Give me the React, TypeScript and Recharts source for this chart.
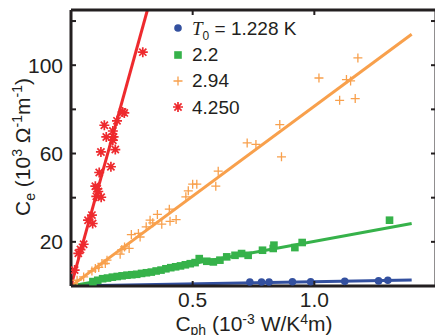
import React from 'react';
import { ComposedChart, Scatter, Line, XAxis, YAxis } from 'recharts';

// Electronic vs phonon heat capacity coefficient, one set per bath temperature T0
const blueX = [0.735, 0.783, 0.814, 0.91, 0.985, 1.125, 1.264, 1.302];
const blueY = [1.8, 1.8, 1.8, 1.9, 1.9, 2.1, 2.3, 2.6];

const greenX = [0.09, 0.11, 0.13, 0.15, 0.17, 0.19, 0.21, 0.23, 0.25, 0.27, 0.29, 0.31, 0.33, 0.35, 0.37, 0.39, 0.41, 0.43, 0.45, 0.47, 0.49, 0.51, 0.527, 0.558, 0.585, 0.612, 0.64, 0.674, 0.701, 0.728, 0.787, 0.831, 0.834, 0.92, 0.95, 1.309];
const greenY = [2.0, 2.6, 3.3, 3.6, 4.0, 4.3, 4.6, 4.9, 5.1, 5.3, 5.7, 6.0, 6.3, 6.8, 7.2, 7.8, 8.3, 8.7, 9.1, 9.6, 10.1, 10.6, 12.4, 11.2, 10.9, 11.7, 13.2, 13.9, 14.7, 13.9, 16.2, 17.0, 18.5, 17.4, 19.7, 29.8];

const orangeX = [0.025, 0.052, 0.086, 0.1, 0.114, 0.127, 0.141, 0.148, 0.202, 0.209, 0.22, 0.239, 0.248, 0.277, 0.284, 0.309, 0.325, 0.336, 0.355, 0.373, 0.404, 0.407, 0.432, 0.472, 0.482, 0.5, 0.517, 0.595, 0.605, 0.724, 0.76, 0.858, 0.865, 1.019, 1.104, 1.132, 1.149, 1.168, 1.179];
const orangeY = [2.6, 4.1, 6.8, 7.9, 8.4, 10.2, 10.2, 11.7, 14.4, 16.5, 17.7, 17.0, 23.3, 23.8, 22.2, 26.8, 29.8, 28.6, 32.4, 28.0, 34.8, 29.3, 30.1, 40.4, 43.1, 46.1, 46.1, 45.2, 52.0, 64.8, 64.1, 73.1, 58.5, 94.2, 84.1, 93.5, 92.9, 84.9, 103.3];

const redX = [0.015, 0.03, 0.039, 0.052, 0.07, 0.086, 0.089, 0.1, 0.104, 0.108, 0.112, 0.124, 0.116, 0.164, 0.123, 0.182, 0.172, 0.145, 0.175, 0.172, 0.137, 0.189, 0.212, 0.219, 0.295];
const redY = [7.2, 14.8, 16.5, 18.9, 29.8, 32.1, 28.3, 45.2, 40.6, 44.0, 42.8, 40.2, 51.4, 54.0, 60.7, 61.8, 66.0, 67.5, 67.5, 70.2, 72.8, 74.8, 78.8, 78.4, 105.9];

// linear fits through the origin, end point of each
const fitEndX = [1.4, 1.4, 1.4, 0.314];
const fitEndY = [2.7, 28.3, 114.0, 125];

const legendLabels = ['1.228 K', '2.2', '2.94', '4.250'];

const xTicks = [0.5, 1.0];
const xTickLabels = ['0.5', '1.0'];
const yTicks = [20, 40, 60, 80, 100, 120];
const yTickLabels = ['20', '', '60', '', '100', ''];

const BLUE = '#33509f';
const GREEN = '#36b24a';
const ORANGE = '#f8a04c';
const RED = '#ee2a2e';
const INK = '#231f20';
const FONT = '"Liberation Sans", Arial, Helvetica, sans-serif';
const COLORS = [BLUE, GREEN, ORANGE, RED];

// plot frame in page pixels
const LEFT = 71;
const TOP = 10;
const RIGHT = 436;
const BOTTOM = 286;

const pts = (xs: number[], ys: number[]) => xs.map((x, i) => ({ x, y: ys[i] }));
const fit = (i: number) => [{ x: 0, y: 0 }, { x: fitEndX[i], y: fitEndY[i] }];

const Dot = ({ cx, cy }: any) => <circle cx={cx} cy={cy} r={3.8} fill={BLUE} />;
const Square = ({ cx, cy }: any) => (
  <rect x={cx - 3.8} y={cy - 3.8} width={7.6} height={7.6} fill={GREEN} />
);
const Plus = ({ cx, cy }: any) => (
  <path d={`M${cx - 4.5},${cy}h9M${cx},${cy - 4.5}v9`} stroke={ORANGE} strokeWidth={1.3} fill="none" />
);
const Star = ({ cx, cy }: any) => (
  <path
    d={`M${cx - 5},${cy}h10M${cx},${cy - 5}v10M${cx - 3.6},${cy - 3.6}l7.2,7.2M${cx - 3.6},${cy + 3.6}l7.2,-7.2`}
    stroke={RED}
    strokeWidth={1.7}
    fill="none"
  />
);

// inward ticks on all four sides; labels only on left and bottom
const LeftTick = ({ y, payload }: any) => {
  const label = yTickLabels[yTicks.indexOf(payload.value)];
  return (
    <g>
      <line x1={LEFT} x2={LEFT + 5} y1={y} y2={y} stroke={INK} strokeWidth={2} />
      {label && (
        <text x={LEFT - 8} y={y + 7.5} textAnchor="end" fontSize={21} fontFamily={FONT} fill={INK}>
          {label}
        </text>
      )}
    </g>
  );
};
const RightTick = ({ y }: any) => (
  <line x1={RIGHT} x2={RIGHT - 5} y1={y} y2={y} stroke={INK} strokeWidth={2} />
);
const BottomTick = ({ x, payload }: any) => (
  <g>
    <line x1={x} x2={x} y1={BOTTOM} y2={BOTTOM - 5} stroke={INK} strokeWidth={2} />
    <text x={x} y={BOTTOM + 21} textAnchor="middle" fontSize={21} fontFamily={FONT} fill={INK}>
      {xTickLabels[xTicks.indexOf(payload.value)]}
    </text>
  </g>
);
const TopTick = ({ x }: any) => (
  <line x1={x} x2={x} y1={TOP} y2={TOP + 5} stroke={INK} strokeWidth={2} />
);

const YTitle = () => (
  <text transform="rotate(-90)" x={-147} y={30} textAnchor="middle" fontSize={21} fontFamily={FONT} fill={INK}>
    <tspan>C</tspan>
    <tspan fontSize={14} dy={5}>e</tspan>
    <tspan dy={-5}> (10</tspan>
    <tspan fontSize={14} dy={-8}>3</tspan>
    <tspan dy={8}> Ω</tspan>
    <tspan fontSize={14} dy={-8}>-1</tspan>
    <tspan dy={8}>m</tspan>
    <tspan fontSize={14} dy={-8}>-1</tspan>
    <tspan dy={8}>)</tspan>
  </text>
);

const XTitle = () => (
  <text x={254} y={331} textAnchor="middle" fontSize={21} fontFamily={FONT} fill={INK}>
    <tspan>C</tspan>
    <tspan fontSize={14} dy={4}>ph</tspan>
    <tspan dy={-4}> (10</tspan>
    <tspan fontSize={14} dy={-7}>-3</tspan>
    <tspan dy={7}> W/K</tspan>
    <tspan fontSize={14} dy={-7}>4</tspan>
    <tspan dy={7}>m)</tspan>
  </text>
);

const LegendIcon = ({ i }: { i: number }) => {
  const c = { cx: 8, cy: 8 };
  return (
    <svg width={16} height={16} style={{ display: 'block' }}>
      {i === 0 && <Dot {...c} />}
      {i === 1 && <Square {...c} />}
      {i === 2 && <Plus {...c} />}
      {i === 3 && <Star {...c} />}
    </svg>
  );
};

const ChartLegend = () => (
  <div style={{ position: 'absolute', left: 170, top: 15, fontFamily: FONT, fontSize: 19, color: INK }}>
    {legendLabels.map((label, i) => (
      <div key={label} style={{ display: 'flex', alignItems: 'center', height: 26.4 }}>
        <LegendIcon i={i} />
        <span style={{ marginLeft: 6, whiteSpace: 'nowrap', lineHeight: 1 }}>
          {i === 0 && (
            <>
              <span style={{ fontFamily: '"Liberation Serif", "Times New Roman", serif', fontStyle: 'italic' }}>T</span>
              <span style={{ fontSize: 12, position: 'relative', top: 5 }}>0</span>
              {' = '}
            </>
          )}
          {label}
        </span>
      </div>
    ))}
  </div>
);

export default function App() {
  const axisLine = { stroke: INK, strokeWidth: 3 };
  const common = { xAxisId: 'b', yAxisId: 'l', isAnimationActive: false };
  return (
    <div style={{ position: 'fixed', left: 0, top: 0, width: 435, height: 335, overflow: 'hidden', background: '#fff' }}>
      <ComposedChart width={440} height={335} margin={{ top: TOP - 1, right: 440 - RIGHT - 1, bottom: 335 - BOTTOM - 30, left: LEFT - 1 }}>
        <XAxis xAxisId="b" type="number" dataKey="x" domain={[0, 1.5]} ticks={xTicks} height={30}
          axisLine={axisLine} tickLine={false} tick={<BottomTick />}
          label={<XTitle />} allowDataOverflow />
        <XAxis xAxisId="t" orientation="top" type="number" dataKey="x" domain={[0, 1.5]} ticks={xTicks} height={1}
          axisLine={axisLine} tickLine={false} tick={<TopTick />} allowDataOverflow />
        <YAxis yAxisId="l" type="number" dataKey="y" domain={[0, 125]} ticks={yTicks} width={1}
          axisLine={axisLine} tickLine={false} tick={<LeftTick />}
          label={<YTitle />} allowDataOverflow />
        <YAxis yAxisId="r" orientation="right" type="number" dataKey="y" domain={[0, 125]} ticks={yTicks} width={1}
          axisLine={axisLine} tickLine={false} tick={<RightTick />} allowDataOverflow />

        <Scatter {...common} data={pts(blueX, blueY)} shape={<Dot />} />
        <Scatter {...common} data={pts(greenX, greenY)} shape={<Square />} />
        <Scatter {...common} data={pts(orangeX, orangeY)} shape={<Plus />} />
        <Scatter {...common} data={pts(redX, redY)} shape={<Star />} />

        {COLORS.map((c, i) => (
          <Line key={c} {...common} data={fit(i)} dataKey="y" type="linear" stroke={c} strokeWidth={3}
            dot={false} activeDot={false} />
        ))}
      </ComposedChart>
      <ChartLegend />
    </div>
  );
}
